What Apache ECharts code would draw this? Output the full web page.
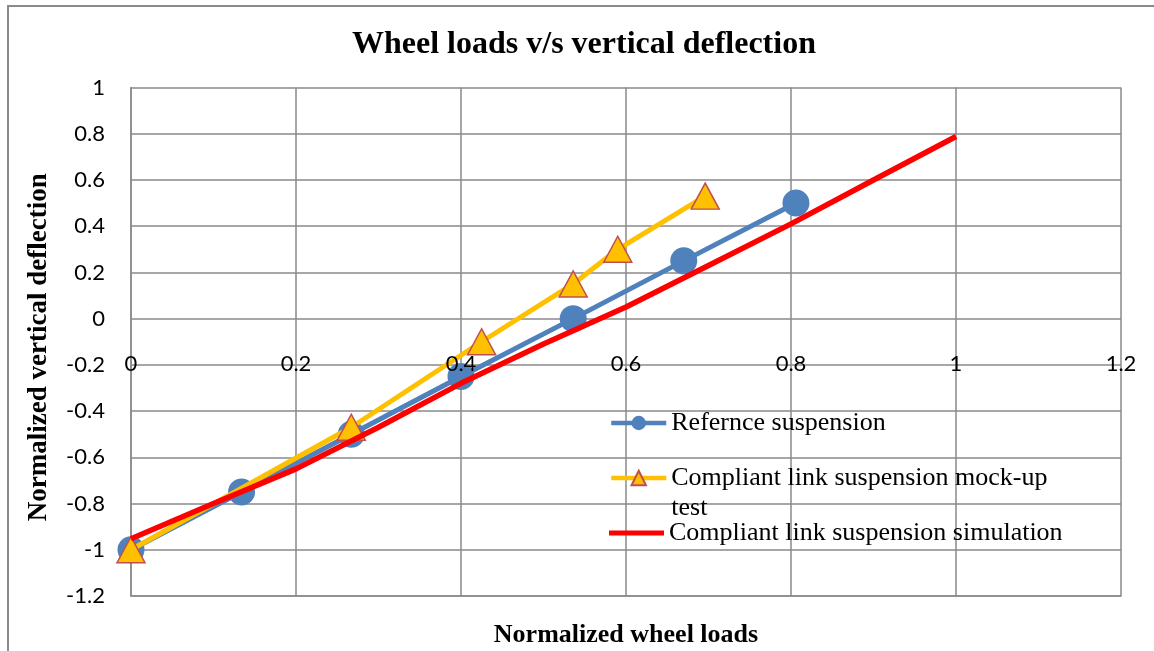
<!DOCTYPE html>
<html>
<head>
<meta charset="utf-8">
<script src="https://cdn.jsdelivr.net/npm/echarts@6/dist/echarts.min.js"></script>
<style>
  html, body { margin: 0; padding: 0; background: #fff; }
  #chart { width: 1154px; height: 651px; }
</style>
</head>
<body>
<div id="chart"></div>
<script>
// Normalized wheel load (x) vs normalized vertical deflection (y)
const seriesNames = [
  'Refernce suspension',
  'Compliant link suspension mock-up test',
  'Compliant link suspension simulation'
];

const referenceLoads = [0, 0.134, 0.267, 0.400, 0.536, 0.670, 0.806];
const referenceDeflection = [-1, -0.75, -0.5, -0.25, 0, 0.25, 0.5];

const mockupLoads = [0, 0.267, 0.425, 0.536, 0.590, 0.696];
const mockupDeflection = [-1, -0.47, -0.1, 0.15, 0.3, 0.53];

const simulationLoads = [0, 0.1, 0.2, 0.3, 0.4, 0.5, 0.6, 0.7, 0.8, 0.9, 1.0];
const simulationDeflection = [-0.952, -0.80, -0.65, -0.47, -0.28, -0.11, 0.05, 0.23, 0.41, 0.60, 0.788];

const xTicks = { min: 0, max: 1.2, step: 0.2 };
const yTicks = { min: -1.2, max: 1, step: 0.2 };

const pairs = (xs, ys) => xs.map((x, i) => [x, ys[i]]);

const gridColor = '#8a8a8a';
const serif = '"Liberation Serif", "Times New Roman", serif';
const sans = 'Lato, "Open Sans", sans-serif';

// plot box
const gridBox = { left: 131, right: 33, top: 87.5, bottom: 55 };
const plotHeight = 651 - gridBox.top - gridBox.bottom;
// the horizontal axis crosses the vertical one at y = 0
const xAxisLift = plotHeight * (0 - yTicks.min) / (yTicks.max - yTicks.min);

const chart = echarts.init(document.getElementById('chart'), null, { renderer: 'canvas' });

const legendBase = {
  orient: 'vertical',
  left: 609,
  padding: 0,
  itemWidth: 55,
  itemHeight: 18,
  itemGap: 0,
  selectedMode: false,
  lineStyle: { width: 4.5 },
  textStyle: { fontFamily: serif, fontSize: 26, color: '#000' }
};

const xAxisCommon = {
  type: 'value',
  min: xTicks.min,
  max: xTicks.max,
  interval: xTicks.step,
  axisTick: { show: false }
};

chart.setOption({
  animation: false,
  backgroundColor: '#ffffff',
  graphic: [{
    type: 'rect',
    shape: { x: 8, y: 6, width: 1300, height: 800 },
    style: { fill: 'none', stroke: '#8a8a8a', lineWidth: 2 },
    silent: true,
    z: -10
  }],
  title: {
    text: 'Wheel loads v/s vertical deflection',
    left: 347,
    top: 24,
    textStyle: { fontFamily: serif, fontSize: 32, fontWeight: 'bold', color: '#000' }
  },
  legend: [
    Object.assign({}, legendBase, { top: 410, data: [seriesNames[0]] }),
    Object.assign({}, legendBase, {
      top: 433,
      data: [seriesNames[1]],
      // wrapped label; the leading blank line keeps the icon level with the first line
      formatter: () => ' \nCompliant link suspension mock-up\ntest',
      textStyle: { fontFamily: serif, fontSize: 26, color: '#000', lineHeight: 30 }
    }),
    // simulation has no markers, so its key is a plain stroke
    Object.assign({}, legendBase, { top: 520, icon: 'rect', itemHeight: 5, data: [seriesNames[2]] })
  ],
  grid: Object.assign({}, gridBox, { containLabel: false, outerBoundsMode: 'none' }),
  xAxis: [
    // gridlines, behind the data
    Object.assign({}, xAxisCommon, {
      position: 'bottom',
      name: 'Normalized wheel loads',
      nameLocation: 'middle',
      nameGap: 26,
      nameTextStyle: { fontFamily: serif, fontSize: 26, fontWeight: 'bold', color: '#000' },
      axisLine: { onZero: false, lineStyle: { color: gridColor, width: 1.5 } },
      axisLabel: { show: false },
      splitLine: { show: true, lineStyle: { color: gridColor, width: 1.5 } }
    }),
    // tick labels along y = 0, drawn above the data
    Object.assign({}, xAxisCommon, {
      position: 'bottom',
      offset: -xAxisLift,
      z: 20,
      axisLine: { show: false, onZero: false },
      axisLabel: { margin: 34, fontFamily: sans, fontSize: 22, color: '#000' },
      splitLine: { show: false }
    })
  ],
  yAxis: {
    type: 'value',
    min: yTicks.min,
    max: yTicks.max,
    interval: yTicks.step,
    name: 'Normalized vertical deflection',
    nameLocation: 'middle',
    nameRotate: 90,
    nameGap: 78,
    nameTextStyle: { fontFamily: serif, fontSize: 27, fontWeight: 'bold', color: '#000', padding: [0, 11, 0, 0] },
    axisLine: { show: true, onZero: false, lineStyle: { color: gridColor, width: 1.5 } },
    axisTick: { show: false },
    axisLabel: { margin: 26, fontFamily: sans, fontSize: 22, color: '#000' },
    splitLine: { show: true, lineStyle: { color: gridColor, width: 1.5 } }
  },
  series: [
    {
      name: seriesNames[0],
      type: 'line',
      xAxisIndex: 0,
      data: pairs(referenceLoads, referenceDeflection),
      symbol: 'circle',
      symbolSize: 27,
      lineStyle: { color: '#4F81BD', width: 5 },
      itemStyle: { color: '#4F81BD' },
      z: 2
    },
    {
      name: seriesNames[1],
      type: 'line',
      xAxisIndex: 0,
      data: pairs(mockupLoads, mockupDeflection),
      symbol: 'triangle',
      symbolSize: [28, 26],
      lineStyle: { color: '#FFC000', width: 5 },
      itemStyle: { color: '#FFC000', borderColor: '#C0504D', borderWidth: 1.5 },
      z: 3
    },
    {
      name: seriesNames[2],
      type: 'line',
      xAxisIndex: 0,
      data: pairs(simulationLoads, simulationDeflection),
      showSymbol: false,
      symbol: 'none',
      lineStyle: { color: '#FF0000', width: 5.5 },
      itemStyle: { color: '#FF0000' },
      z: 4
    }
  ]
});
</script>
</body>
</html>
